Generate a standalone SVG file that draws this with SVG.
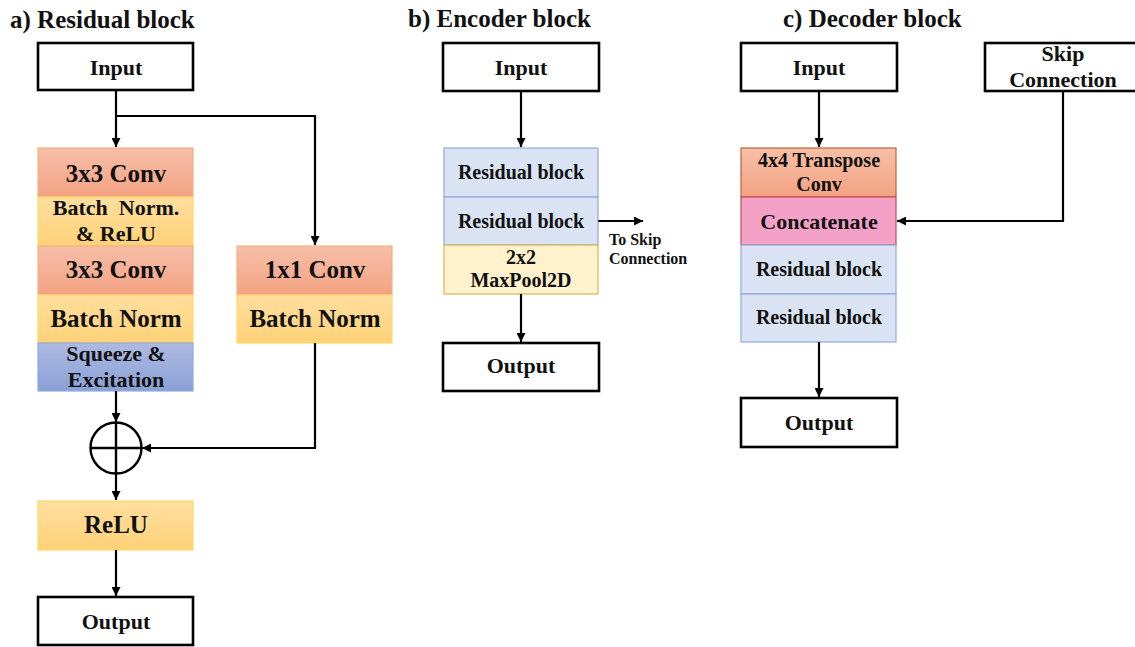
<svg xmlns="http://www.w3.org/2000/svg" width="1135" height="647" viewBox="0 0 1135 647">
  <defs>
    <linearGradient id="gSalmon" x1="0" y1="0" x2="0" y2="1">
      <stop offset="0" stop-color="#f6bfa7"/>
      <stop offset="1" stop-color="#f3a282"/>
    </linearGradient>
    <linearGradient id="gYellow" x1="0" y1="0" x2="0" y2="1">
      <stop offset="0" stop-color="#ffdf9f"/>
      <stop offset="1" stop-color="#fed177"/>
    </linearGradient>
    <linearGradient id="gBlue" x1="0" y1="0" x2="0" y2="1">
      <stop offset="0" stop-color="#adbae1"/>
      <stop offset="1" stop-color="#8aa0d6"/>
    </linearGradient>
    <marker id="arrow" viewBox="0 0 10 10" refX="10" refY="5" markerWidth="9" markerHeight="9" markerUnits="userSpaceOnUse" orient="auto">
      <path d="M0,0 L10,5 L0,10 Z" fill="#000"/>
    </marker>
    <style>
      text { font-family: "Liberation Serif", "Times New Roman", serif; font-weight: bold; fill: #111; text-anchor: middle; }
      .title { font-size: 25px; text-anchor: start; }
      .io { fill: #fff; stroke: #000; stroke-width: 2.6; }
      .salmon { fill: url(#gSalmon); stroke: #f4b183; stroke-width: 1.2; }
      .yellow { fill: url(#gYellow); stroke: #ffd966; stroke-width: 1.2; }
      .blue { fill: url(#gBlue); stroke: #8faadc; stroke-width: 1.2; }
      .lblue { fill: #dae3f3; stroke: #8faadc; stroke-width: 1.2; }
      .pool { fill: #fff2cc; stroke: #d6b656; stroke-width: 1.2; }
      .tconv { fill: url(#gSalmon); stroke: #b8653f; stroke-width: 1.2; }
      .concat { fill: #f4a1c7; stroke: #c0504d; stroke-width: 1.2; }
      .wire { fill: none; stroke: #000; stroke-width: 2.2; }
      .t22 { font-size: 22px; }
      .t25 { font-size: 25px; }
      .t20 { font-size: 20px; }
      .t16 { font-size: 16px; text-anchor: start; }
    </style>
  </defs>

  <rect width="1135" height="647" fill="#fff"/>

  <!-- Section titles -->
  <text class="title" x="10" y="28">a) Residual block</text>
  <text class="title" x="408" y="27">b) Encoder block</text>
  <text class="title" x="783" y="27">c) Decoder block</text>

  <!-- ===== a) Residual block ===== -->
  <g id="a-input">
    <rect class="io" x="38" y="43" width="155" height="47"/>
    <text class="t22" x="116" y="75">Input</text>
  </g>
  <g id="a-conv1">
    <rect class="salmon" x="38" y="148" width="155" height="49"/>
    <text class="t25" x="116" y="182">3x3 Conv</text>
  </g>
  <g id="a-bnrelu">
    <rect class="yellow" x="38" y="197" width="155" height="49"/>
    <text class="t22" x="116" y="215" xml:space="preserve">Batch  Norm.</text>
    <text class="t22" x="116" y="241">&amp; ReLU</text>
  </g>
  <g id="a-conv2">
    <rect class="salmon" x="38" y="246" width="155" height="49"/>
    <text class="t25" x="116" y="278">3x3 Conv</text>
  </g>
  <g id="a-bn">
    <rect class="yellow" x="38" y="295" width="155" height="48"/>
    <text class="t25" x="116" y="327">Batch Norm</text>
  </g>
  <g id="a-se">
    <rect class="blue" x="38" y="343" width="155" height="48"/>
    <text class="t22" x="116" y="361">Squeeze &amp;</text>
    <text class="t22" x="116" y="387">Excitation</text>
  </g>
  <g id="a-conv1x1">
    <rect class="salmon" x="237" y="246" width="155" height="49"/>
    <text class="t25" x="315" y="278">1x1 Conv</text>
  </g>
  <g id="a-bn2">
    <rect class="yellow" x="237" y="295" width="155" height="48"/>
    <text class="t25" x="315" y="327">Batch Norm</text>
  </g>
  <g id="a-add">
    <circle cx="116" cy="448" r="25.5" fill="#fff" stroke="#000" stroke-width="2.4"/>
    <path d="M90.5,448 H141.5 M116,422.5 V473.5" stroke="#000" stroke-width="2.4" fill="none"/>
  </g>
  <g id="a-relu">
    <rect class="yellow" x="38" y="501" width="155" height="49"/>
    <text class="t25" x="116" y="533">ReLU</text>
  </g>
  <g id="a-output">
    <rect class="io" x="38" y="597" width="155" height="48"/>
    <text class="t22" x="116" y="629">Output</text>
  </g>

  <!-- ===== b) Encoder block ===== -->
  <g id="b-input">
    <rect class="io" x="443" y="43" width="156" height="48"/>
    <text class="t22" x="521" y="75">Input</text>
  </g>
  <g id="b-res1">
    <rect class="lblue" x="444" y="148" width="154" height="49"/>
    <text class="t20" x="521" y="179">Residual block</text>
  </g>
  <g id="b-res2">
    <rect class="lblue" x="444" y="197" width="154" height="48"/>
    <text class="t20" x="521" y="228">Residual block</text>
  </g>
  <g id="b-pool">
    <rect class="pool" x="444" y="245" width="154" height="49"/>
    <text class="t20" x="521" y="264">2x2</text>
    <text class="t20" x="521" y="287">MaxPool2D</text>
  </g>
  <g id="b-skip-label">
    <text class="t16" x="609" y="245">To Skip</text>
    <text class="t16" x="609" y="264">Connection</text>
  </g>
  <g id="b-output">
    <rect class="io" x="443" y="343" width="156" height="48"/>
    <text class="t22" x="521" y="373">Output</text>
  </g>

  <!-- ===== c) Decoder block ===== -->
  <g id="c-input">
    <rect class="io" x="741" y="43" width="156" height="48"/>
    <text class="t22" x="819" y="75">Input</text>
  </g>
  <g id="c-skip">
    <rect class="io" x="985" y="43" width="160" height="48"/>
    <text class="t22" x="1063" y="61">Skip</text>
    <text class="t22" x="1063" y="87">Connection</text>
  </g>
  <g id="c-tconv">
    <rect class="tconv" x="741" y="148" width="155" height="49"/>
    <text class="t20" x="819" y="167">4x4 Transpose</text>
    <text class="t20" x="819" y="191">Conv</text>
  </g>
  <g id="c-concat">
    <rect class="concat" x="741" y="197" width="155" height="48"/>
    <text class="t22" x="819" y="229">Concatenate</text>
  </g>
  <g id="c-res1">
    <rect class="lblue" x="741" y="245" width="155" height="49"/>
    <text class="t20" x="819" y="276">Residual block</text>
  </g>
  <g id="c-res2">
    <rect class="lblue" x="741" y="294" width="155" height="48"/>
    <text class="t20" x="819" y="324">Residual block</text>
  </g>
  <g id="c-output">
    <rect class="io" x="741" y="398" width="156" height="49"/>
    <text class="t22" x="819" y="430">Output</text>
  </g>

  <!-- Connectors -->
  <g id="connectors">
    <path class="wire" d="M116,91 V147" marker-end="url(#arrow)"/>
    <path class="wire" d="M116,116 H315 V245" marker-end="url(#arrow)"/>
    <path class="wire" d="M116,391 V422" marker-end="url(#arrow)"/>
    <path class="wire" d="M315,343 V448 H142" marker-end="url(#arrow)"/>
    <path class="wire" d="M116,474 V500" marker-end="url(#arrow)"/>
    <path class="wire" d="M116,550 V596" marker-end="url(#arrow)"/>

    <path class="wire" d="M521,91 V147" marker-end="url(#arrow)"/>
    <path class="wire" d="M598,221 H643" marker-end="url(#arrow)"/>
    <path class="wire" d="M521,294 V342" marker-end="url(#arrow)"/>

    <path class="wire" d="M819,91 V147" marker-end="url(#arrow)"/>
    <path class="wire" d="M1063,91 V221 H897" marker-end="url(#arrow)"/>
    <path class="wire" d="M819,342 V397" marker-end="url(#arrow)"/>
  </g>
</svg>
